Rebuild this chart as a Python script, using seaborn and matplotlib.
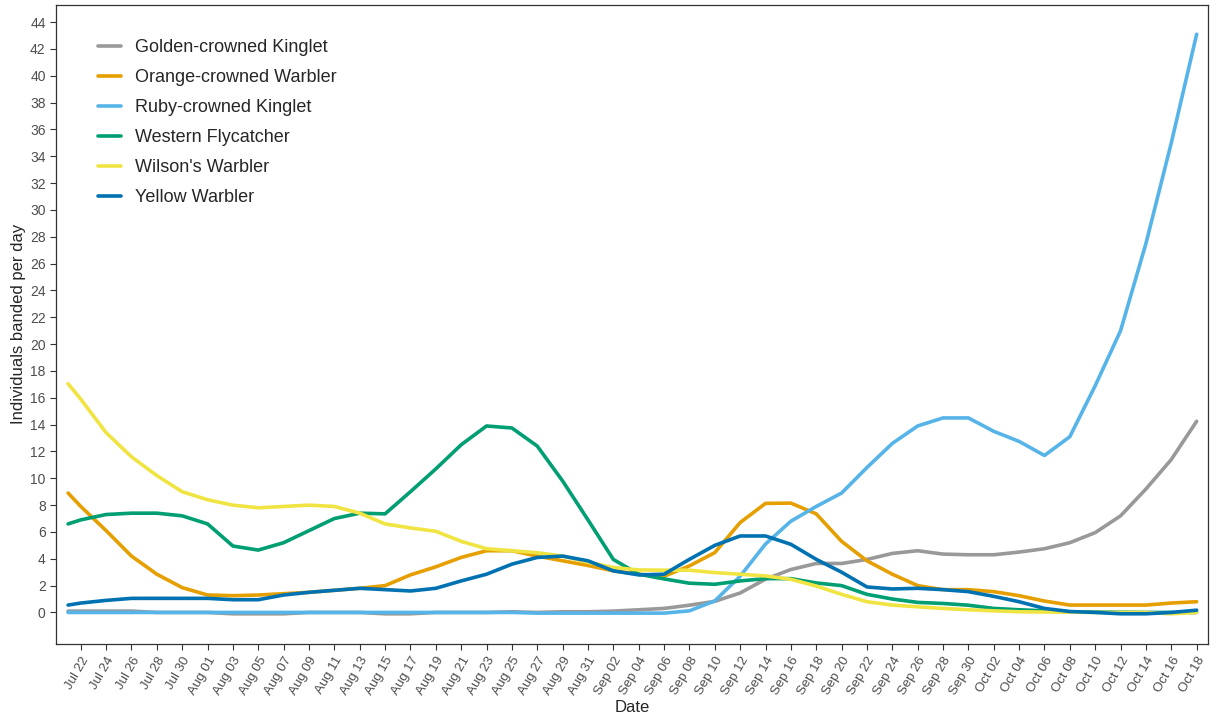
import pandas as pd
import matplotlib.pyplot as plt
import matplotlib.dates as mdates
import seaborn as sns

# days since Jul 22 (first point is Jul 21)
day_offsets = [-1] + list(range(0, 89, 2))

golden_crowned = [0.1, 0.1, 0.1, 0.1, 0, 0, 0, -0.1, -0.1, -0.1, 0, 0, 0, -0.1, -0.1,
                  0, 0, 0, 0.05, 0, 0.05, 0.05, 0.1, 0.2, 0.3, 0.54, 0.83, 1.45, 2.48, 3.2,
                  3.65, 3.65, 3.95, 4.4, 4.6, 4.35, 4.3, 4.3, 4.5, 4.75, 5.2, 5.95, 7.2,
                  9.2, 11.4, 14.25]
orange_crowned = [8.9, 7.9, 6.1, 4.2, 2.85, 1.85, 1.3, 1.25, 1.3, 1.4, 1.5, 1.65, 1.8, 2.0,
                  2.8, 3.4, 4.1, 4.6, 4.6, 4.2, 3.85, 3.5, 3.1, 2.85, 2.7, 3.47, 4.46, 6.7,
                  8.13, 8.15, 7.35, 5.3, 3.85, 2.85, 2.0, 1.7, 1.7, 1.55, 1.25, 0.85, 0.55,
                  0.55, 0.55, 0.55, 0.7, 0.8]
ruby_crowned = [0, 0, 0, 0, 0, 0, 0, 0, 0, 0, 0, 0, 0, 0, 0, 0, 0, 0, 0, -0.05, -0.05,
                -0.05, -0.05, -0.05, -0.05, 0.12, 0.86, 2.7, 5.1, 6.8, 7.9, 8.9, 10.8, 12.6,
                13.9, 14.5, 14.5, 13.5, 12.75, 11.7, 13.1, 16.9, 21.0, 27.5, 35.0, 43.1]
western_fly = [6.6, 6.9, 7.3, 7.4, 7.4, 7.2, 6.6, 4.95, 4.65, 5.2, 6.1, 7.0, 7.4, 7.35, 9.0,
               10.7, 12.5, 13.9, 13.75, 12.4, 9.8, 6.9, 3.95, 2.85, 2.5, 2.18, 2.1, 2.35,
               2.52, 2.52, 2.2, 2.0, 1.35, 1.0, 0.75, 0.67, 0.54, 0.3, 0.2, 0.12, 0.05,
               0.03, 0.02, 0, 0, 0]
wilsons = [17.05, 15.9, 13.4, 11.6, 10.2, 9.0, 8.4, 8.0, 7.8, 7.9, 8.0, 7.9, 7.4, 6.6, 6.3,
           6.05, 5.3, 4.75, 4.6, 4.45, 4.2, 3.75, 3.35, 3.17, 3.15, 3.15, 2.97, 2.85, 2.72,
           2.47, 1.97, 1.35, 0.8, 0.55, 0.42, 0.3, 0.2, 0.12, 0.05, 0.03, 0.02, 0, 0, 0,
           -0.1, 0]
yellow_warbler = [0.55, 0.7, 0.9, 1.05, 1.05, 1.05, 1.05, 0.95, 0.95, 1.3, 1.5, 1.65, 1.8,
                  1.7, 1.6, 1.8, 2.35, 2.85, 3.6, 4.1, 4.2, 3.85, 3.1, 2.8, 2.85, 3.96, 5.0,
                  5.7, 5.7, 5.08, 3.96, 3.0, 1.9, 1.75, 1.8, 1.7, 1.55, 1.2, 0.8, 0.3, 0.07,
                  0, -0.1, -0.1, 0, 0.17]

species = ["Golden-crowned Kinglet", "Orange-crowned Warbler", "Ruby-crowned Kinglet",
           "Western Flycatcher", "Wilson's Warbler", "Yellow Warbler"]
colors = ["#999999", "#E69F00", "#56B4E9", "#009E73", "#F0E442", "#0072B2"]
series = [golden_crowned, orange_crowned, ruby_crowned, western_fly, wilsons, yellow_warbler]

start = pd.Timestamp("2021-07-22")
dates = [start + pd.Timedelta(days=d) for d in day_offsets]

rows = []
for name, vals in zip(species, series):
    for dt, v in zip(dates, vals):
        rows.append({"Date": dt, "Count": v, "Species": name})
df = pd.DataFrame(rows)

sns.set_style("white")
plt.rcParams["font.family"] = ["Liberation Sans", "DejaVu Sans"]

fig = plt.figure(figsize=(12.21, 7.27), dpi=100)
ax = fig.add_axes([0.0459, 0.1142, 0.9435, 0.8793])

sns.lineplot(data=df, x="Date", y="Count", hue="Species", hue_order=species,
             palette=dict(zip(species, colors)), linewidth=2.6, ax=ax)

# x axis: a tick every two days
tick_dates = pd.date_range("2021-07-22", "2021-10-18", freq="2D")
ax.set_xticks(tick_dates)
ax.xaxis.set_major_formatter(mdates.DateFormatter("%b %d"))
ax.set_xlim(start - pd.Timedelta(days=1.95), start + pd.Timedelta(days=88.9))
plt.setp(ax.get_xticklabels(), rotation=60, ha="right", rotation_mode="anchor",
         fontsize=9.5, color="#4D4D4D")

ax.set_yticks(range(0, 45, 2))
ax.set_ylim(-2.35, 45.3)
plt.setp(ax.get_yticklabels(), fontsize=10, color="#4D4D4D")

ax.tick_params(axis="both", direction="out", length=4, width=0.8, color="#333333",
               bottom=True, left=True)
for s in ax.spines.values():
    s.set_color("#333333")
    s.set_linewidth(0.9)

ax.set_xlabel("Date", fontsize=12, labelpad=2)
ax.set_ylabel("Individuals banded per day", fontsize=12, labelpad=3)

handles, labels = ax.get_legend_handles_labels()
ax.legend(handles, labels, loc="upper left", bbox_to_anchor=(0.036, 0.946),
          frameon=False, fontsize=13, handlelength=1.3, handletextpad=0.8,
          labelspacing=0.72, borderpad=0, borderaxespad=0)

fig.savefig("out.png", dpi=100)
